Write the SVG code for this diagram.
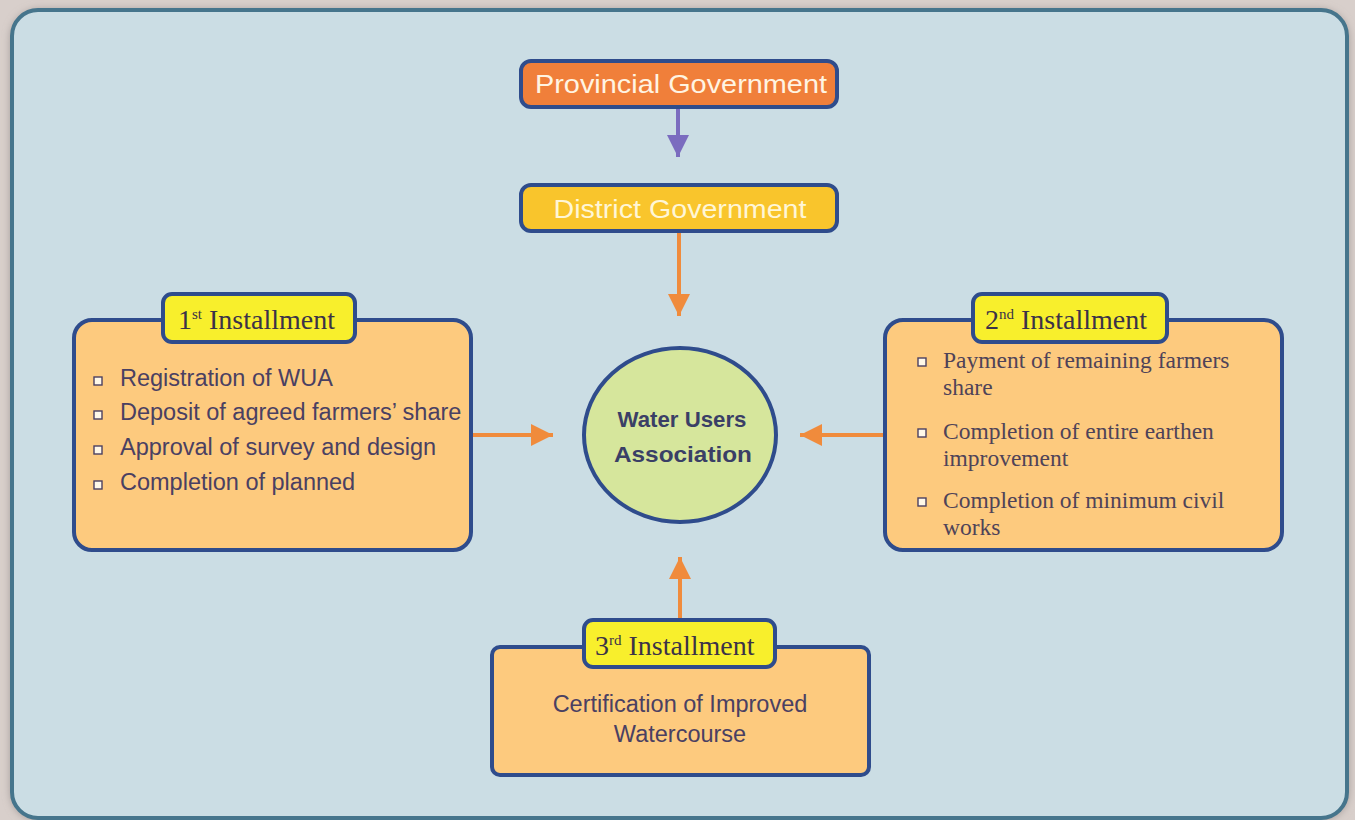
<svg xmlns="http://www.w3.org/2000/svg" width="1355" height="820" viewBox="0 0 1355 820">
<defs>
<style>
.box{fill:#fdca7e;stroke:#2f4c8c;stroke-width:4}
.tab{fill:#f8ef2c;stroke:#2f4c8c;stroke-width:4}
.tabt{font-family:"Liberation Serif",serif;font-size:28px;fill:#3b3248}
.sans{font-family:"Liberation Sans",Arial,sans-serif;font-size:23.5px;fill:#4a4062}
.serif{font-family:"Liberation Serif",serif;font-size:23.5px;fill:#4f4358}
.bul{fill:#fff8e8;stroke:#4a4062;stroke-width:1.4}
.conn{stroke:#f08b3c;stroke-width:4;fill:none}
</style>
<marker id="ao" markerWidth="22" markerHeight="22" refX="8" refY="4" orient="auto" markerUnits="userSpaceOnUse" viewBox="0 0 8 8">
<path d="M0,0 L8,4 L0,8 Z" fill="#f08b3c"/>
</marker>
<marker id="ap" markerWidth="22" markerHeight="22" refX="8" refY="4" orient="auto" markerUnits="userSpaceOnUse" viewBox="0 0 8 8">
<path d="M0,0 L8,4 L0,8 Z" fill="#7b6cbf"/>
</marker>
<filter id="sh" x="-5%" y="-5%" width="110%" height="110%">
<feGaussianBlur stdDeviation="4"/>
</filter>
</defs>
<rect x="0" y="0" width="1355" height="820" fill="#d8cfcb"/>
<rect x="11" y="10" width="1337" height="810" rx="28" fill="#9a9290" filter="url(#sh)"/>
<rect x="12" y="10" width="1335" height="808" rx="26" fill="#cbdde4" stroke="#46758c" stroke-width="4"/>

<g id="connectors">
<line x1="678" y1="109" x2="678" y2="157" stroke="#7b6cbf" stroke-width="4" marker-end="url(#ap)"/>
<line x1="679" y1="233" x2="679" y2="316" class="conn" marker-end="url(#ao)"/>
<line x1="473" y1="435" x2="553" y2="435" class="conn" marker-end="url(#ao)"/>
<line x1="885" y1="435" x2="800" y2="435" class="conn" marker-end="url(#ao)"/>
<line x1="680" y1="620" x2="680" y2="557" class="conn" marker-end="url(#ao)"/>
</g>

<g id="provincial">
<rect x="521" y="61" width="316" height="46" rx="10" fill="#f07f3a" stroke="#2f4c8c" stroke-width="4"/>
<text x="681" y="93" text-anchor="middle" font-family="Liberation Sans,Arial,sans-serif" font-size="26" fill="#fff4e2" textLength="292" lengthAdjust="spacingAndGlyphs">Provincial Government</text>
</g>

<g id="district">
<rect x="521" y="185" width="316" height="46" rx="10" fill="#f9c52c" stroke="#2f4c8c" stroke-width="4"/>
<text x="680" y="218" text-anchor="middle" font-family="Liberation Sans,Arial,sans-serif" font-size="26" fill="#fff6d6" textLength="253" lengthAdjust="spacingAndGlyphs">District Government</text>
</g>

<g id="wua">
<ellipse cx="680" cy="435" rx="96" ry="87" fill="#d6e69c" stroke="#2f4c8c" stroke-width="4"/>
<text x="682" y="427" text-anchor="middle" font-family="Liberation Sans,Arial,sans-serif" font-size="22" font-weight="bold" fill="#3a3f66" textLength="129" lengthAdjust="spacingAndGlyphs">Water Users</text>
<text x="683" y="462" text-anchor="middle" font-family="Liberation Sans,Arial,sans-serif" font-size="22" font-weight="bold" fill="#3a3f66" textLength="138" lengthAdjust="spacingAndGlyphs">Association</text>
</g>

<g id="installment1">
<rect x="74" y="320" width="397" height="230" rx="18" class="box"/>
<rect x="163" y="294" width="192" height="48" rx="9" class="tab"/>
<text x="178" y="329" class="tabt">1<tspan font-size="15" dy="-10">st</tspan><tspan dy="10"> Installment</tspan></text>
<rect x="94" y="377" width="8" height="8" class="bul"/>
<text x="120" y="386" class="sans">Registration of WUA</text>
<rect x="94" y="411" width="8" height="8" class="bul"/>
<text x="120" y="420" class="sans">Deposit of agreed farmers’ share</text>
<rect x="94" y="446" width="8" height="8" class="bul"/>
<text x="120" y="455" class="sans">Approval of survey and design</text>
<rect x="94" y="481" width="8" height="8" class="bul"/>
<text x="120" y="490" class="sans">Completion of planned</text>
</g>

<g id="installment2">
<rect x="885" y="320" width="397" height="230" rx="18" class="box"/>
<rect x="973" y="294" width="194" height="48" rx="9" class="tab"/>
<text x="985" y="329" class="tabt">2<tspan font-size="15" dy="-10">nd</tspan><tspan dy="10"> Installment</tspan></text>
<rect x="918" y="358" width="8" height="8" class="bul"/>
<text x="943" y="368" class="serif">Payment of remaining farmers</text>
<text x="943" y="395" class="serif">share</text>
<rect x="918" y="429" width="8" height="8" class="bul"/>
<text x="943" y="439" class="serif">Completion of entire earthen</text>
<text x="943" y="466" class="serif">improvement</text>
<rect x="918" y="498" width="8" height="8" class="bul"/>
<text x="943" y="508" class="serif">Completion of minimum civil</text>
<text x="943" y="535" class="serif">works</text>
</g>

<g id="installment3">
<rect x="492" y="647" width="377" height="128" rx="8" class="box"/>
<rect x="584" y="620" width="191" height="47" rx="9" class="tab"/>
<text x="595" y="655" class="tabt">3<tspan font-size="15" dy="-10">rd</tspan><tspan dy="10"> Installment</tspan></text>
<text x="680" y="712" text-anchor="middle" class="sans">Certification of Improved</text>
<text x="680" y="742" text-anchor="middle" class="sans">Watercourse</text>
</g>
</svg>
